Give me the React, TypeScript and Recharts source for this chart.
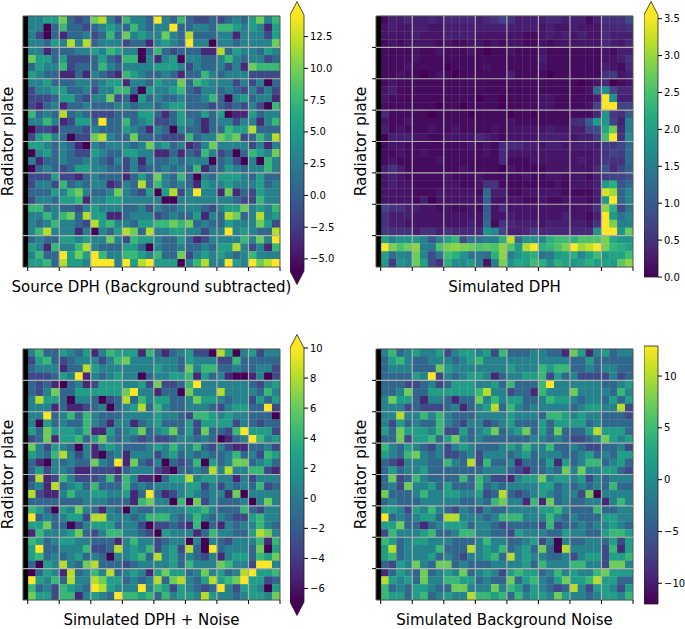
import { ScatterChart, Scatter, XAxis, YAxis, ReferenceArea, ReferenceLine, BarChart, Bar } from 'recharts';

// rows run top to bottom, one char per detector cell
// panels with digits: 0 = colour range bottom, 9 = colour range top
const SOURCE_ROWS = [
  '44557323 78426443 94363223 23435746',
  '44036332 34543643 44933443 66545415',
  '42031334 23637454 47438333 44144425',
  '44354848 34442331 45439440 44344447',
  '44133344 54654403 63233311 83544354',
  '75535222 35326604 14504433 46434423',
  '35446233 36434444 55542433 42417666',
  '54331131 43216543 34313364 34442222',
  '44533344 34551443 54473654 44242403',
  '24455334 24466305 44563244 34324242',
  '22235532 44723053 43343346 30453441',
  '21341334 33344344 34553332 32324206',
  '63438343 22233355 31353353 50115344',
  '44641255 39336345 22354313 44244146',
  '02213332 43335431 43043313 36558333',
  '25643022 78433733 32226344 76723648',
  '55434310 43444347 45341247 44442414',
  '04534322 54335544 11313264 23036547',
  '41334334 43242414 33434440 34204064',
  '03432355 44332423 34343613 35434464',
  '22252213 43331353 74363043 55543533',
  '24426343 44124383 64343154 45444534',
  '33354674 33474325 05824944 17132544',
  '24435561 44554444 40044444 44322644',
  '66343324 54443342 43344432 45574546',
  '44646738 55113444 23433514 38734845',
  '43464432 85644355 66767343 35444752',
  '46844414 04358738 44554424 49454338',
  '34335545 44742655 43353124 44464749',
  '54164468 43335530 43343343 55842416',
  '46339575 96446654 63372454 54346444',
  '55638554 99949589 55504684 49549789',
];

// tenths of a count, written in base 36 (a = 1.0, k = 2.0, z = 3.5)
const SIMULATED_ROWS = [
  '13343343 44443457 53333443 33135558',
  '23223322 33333333 33332322 32224445',
  '22223222 33332222 22112323 23224333',
  '12122221 21122121 22112122 22224324',
  '11112112 11121011 21112111 11112133',
  '11112111 11111111 11113111 11112235',
  '11121111 01111211 11112111 11113214',
  '11211012 10111111 31111011 11115623',
  '12111111 11111111 11111111 10124012',
  '23111111 11111111 11111111 112dh744',
  '21111111 11110110 11112211 1113zh33',
  '11111110 11011110 11112211 1127zz77',
  '41111101 11101111 01101111 1114i65a',
  '21121111 11111111 21111111 45aji73f',
  '31211121 12111121 22222322 3378lr4f',
  '03332211 22224321 22223333 2336oz5h',
  '12211111 11121214 44332332 3333667c',
  '11211211 11111214 22222222 2223576c',
  '12111112 11111114 11122222 2323655c',
  '35311111 11211110 21111222 2224947b',
  '23211111 21112111 11211221 22136779',
  '23221111 22112551 11111121 2223jm9c',
  '22221112 22221c33 11222221 1113xubg',
  '22221302 22222b22 22112112 2213jzbg',
  '75533221 21121a24 22222222 2225tm7d',
  '53332222 22222b22 32222223 2213zjdg',
  '53322222 22232c15 43332333 3325zsff',
  '65553553 54444ig7 33464444 444izzir',
  'kfiiifaf kn8ddffm wciigmoo mpppslii',
  'zsprtfep stsrpqpt pjvzmnps zuwzsnmk',
  'kcgfrg8e omidecmt fikmdejk mgkoikko',
  'j6igrk85 mhhjf2fs ilkomhmk ikmjkjqt',
];

const NOISY_ROWS = [
  '46335435 14655516 31345220 85045244',
  '25632344 42467444 44435444 22633333',
  '34441338 54444444 54437466 33433442',
  '22235491 43454403 44556153 41001402',
  '32310341 25554452 72236944 44443245',
  '32473355 55557944 13307444 84444364',
  '48553044 30238364 55334755 43442535',
  '44413112 34034583 64334443 24553392',
  '44934636 43334444 54432665 45443330',
  '40534336 43144134 53335255 55243233',
  '53755546 11534573 45735273 32695552',
  '23715563 57434323 22344343 01349645',
  '74254304 14543334 54644632 42113342',
  '54368424 10341444 24534343 34634265',
  '31043433 74391732 40323605 34773453',
  '35244311 22213444 21033438 48446621',
  '28126422 23626411 03558455 44142444',
  '34183453 63336343 44445524 24343623',
  '82114644 55445139 31245434 41704444',
  '33333334 44333167 44060724 33340474',
  '65305474 31430433 44445564 33363244',
  '93434552 88444346 66434643 43225644',
  '55733024 55534420 22321603 14344643',
  '16444573 24664432 05444136 44335874',
  '65345544 33314644 23440404 32444616',
  '59334446 22384546 24528309 34443705',
  '56343453 43044563 84534324 14553657',
  '30548437 83332344 44536444 76442994',
  '03541834 64834541 57553474 53489556',
  '95463844 87553434 83784358 56795523',
  '63426543 98544494 65254323 94255405',
  '75526614 54396656 36455485 44345547',
];

const NOISE_ROWS = [
  '46345445 24554526 33344331 75145344',
  '35643344 43456444 44444444 33533333',
  '34443337 54444444 54446566 33434433',
  '33335492 43455413 44556253 42222423',
  '33322342 35554453 63336944 44443345',
  '33473355 55556844 23316444 74444364',
  '47553144 31337464 55334655 43443535',
  '44423222 34134583 64344444 34554482',
  '44844646 43334444 54443665 45443332',
  '42534336 43244234 53335355 55343333',
  '53755546 22534573 45735373 33585553',
  '33725563 57434333 33344343 22347545',
  '64354324 24543334 54644633 43223342',
  '54367434 22342444 34534443 34534355',
  '32144433 64382633 41333515 34663453',
  '35344533 33333444 32133437 47445532',
  '37236433 33636422 14557455 45243444',
  '34274453 53336343 44445534 34343633',
  '73334644 55445238 32345434 42704444',
  '34333444 44334367 44161734 33441464',
  '55425464 32432433 44445564 33363344',
  '93434553 88444346 66444643 43335544',
  '55733134 55534432 33332623 34344543',
  '26444563 34664433 25444335 44335665',
  '65345544 43334644 33452404 33443525',
  '58344446 33384546 34537308 44442615',
  '56344453 43244563 84544334 24552556',
  '32547437 73433344 44536444 66442774',
  '13543734 54734542 56553464 54467555',
  '85453744 66553433 73564357 55685533',
  '63435543 37744474 65354323 84255425',
  '65535634 54486656 36455475 44345546',
];

const SOURCE_TICKS = [-5, -2.5, 0, 2.5, 5, 7.5, 10, 12.5];
const SIMULATED_TICKS = [0, 0.5, 1, 1.5, 2, 2.5, 3, 3.5];
const NOISY_TICKS = [-6, -4, -2, 0, 2, 4, 6, 8, 10];
const NOISE_TICKS = [-10, -5, 0, 5, 10];

const VIRIDIS = ['#440154', '#482475', '#414487', '#355f8d', '#2a788e', '#21918c', '#22a884', '#44bf70', '#7ad151', '#bddf26', '#fde725'];
const GRID_LINES = [4, 8, 12, 16, 20, 24, 28];
const X_TICKS = [0, 4, 8, 12, 16, 20, 24, 28, 32];
const ANCHOR = [{ x: 0, y: 0 }];
const FONT = 'DejaVu Sans';

const CELL_W = 257 / 32.6;
const CELL_H = 251 / 32;

function viridis(t: number) {
  const p = Math.max(0, Math.min(1, t)) * (VIRIDIS.length - 1);
  const i = Math.min(Math.floor(p), VIRIDIS.length - 2);
  const f = p - i;
  const a = VIRIDIS[i];
  const b = VIRIDIS[i + 1];
  const ch = (k: number) => {
    const v1 = parseInt(a.slice(k, k + 2), 16);
    const v2 = parseInt(b.slice(k, k + 2), 16);
    return Math.round(v1 + (v2 - v1) * f);
  };
  return `rgb(${ch(1)},${ch(3)},${ch(5)})`;
}

function buildCells(rows: string[], vmin: number, vmax: number, base36: boolean) {
  const out: any[] = [];
  rows.forEach((row, j) => {
    row.replace(/ /g, '').split('').forEach((c, i) => {
      const value = base36 ? parseInt(c, 36) / 10 : vmin + (Number(c) / 9) * (vmax - vmin);
      out.push({ x: i + 0.5, y: j + 0.5, value, fill: viridis((value - vmin) / (vmax - vmin)) });
    });
  });
  return out;
}

const CellShape = (props: any) => (
  <rect
    x={props.cx - CELL_W / 2 - 0.15}
    y={props.cy - CELL_H / 2 - 0.15}
    width={CELL_W + 0.3}
    height={CELL_H + 0.3}
    fill={props.payload.fill}
  />
);

function Heatmap({ left, top, rows, vmin, vmax, base36, xLabel, yTicks }: any) {
  const cells = buildCells(rows, vmin, vmax, base36);
  return (
    <>
      <div style={{ position: 'absolute', left, top, filter: 'blur(0.45px)' }}>
        <ScatterChart width={300} height={307} margin={{ top: 16, right: 20, bottom: 40, left: 23 }}>
          <XAxis type="number" dataKey="x" domain={[-0.6, 32]} allowDataOverflow hide />
          <YAxis type="number" dataKey="y" domain={[0, 32]} reversed hide />
          <Scatter data={cells} shape={CellShape} isAnimationActive={false} />
        </ScatterChart>
      </div>
      {/* second chart on top: the reference lines would otherwise sit under the cells */}
      <div style={{ position: 'absolute', left, top }}>
        <ScatterChart width={300} height={307} margin={{ top: 16, right: 20, bottom: 0, left: 0 }}>
          <XAxis
            type="number"
            dataKey="x"
            domain={[-0.6, 32]}
            ticks={X_TICKS}
            interval={0}
            allowDataOverflow
            axisLine={false}
            tickSize={4}
            tickLine={{ stroke: '#000' }}
            tickFormatter={() => ''}
            height={40}
            label={{ value: xLabel, position: 'insideBottom', offset: 15, fontSize: 15, fill: '#000', fontFamily: FONT }}
          />
          <YAxis
            type="number"
            dataKey="y"
            domain={[0, 32]}
            reversed
            ticks={GRID_LINES}
            interval={0}
            axisLine={false}
            tickLine={yTicks ? { stroke: '#000' } : false}
            tickSize={4}
            tickFormatter={() => ''}
            width={23}
            label={{ value: 'Radiator plate', angle: -90, position: 'insideLeft', textAnchor: 'middle', offset: 7, fontSize: 15.5, fill: '#000', fontFamily: FONT }}
          />
          <Scatter data={ANCHOR} fill="none" isAnimationActive={false} />
          {GRID_LINES.map((v) => (
            <ReferenceLine key={`v${v}`} x={v} stroke="#b0b0b0" strokeWidth={1.2} />
          ))}
          {GRID_LINES.map((v) => (
            <ReferenceLine key={`h${v}`} y={v} stroke="#b0b0b0" strokeWidth={1.2} />
          ))}
          <ReferenceArea x1={-0.6} x2={0.05} y1={0} y2={32} fill="#000" fillOpacity={1} stroke="none" />
          <ReferenceArea x1={-0.6} x2={32} y1={0} y2={32} fill="none" stroke="#555" strokeWidth={1} />
        </ScatterChart>
      </div>
    </>
  );
}

function ColorBar({ left, top, height, vmin, vmax, ticks, digits, extendTop, extendBottom, id }: any) {
  const barData = [{ name: 'bar', range: [vmin, vmax] }];
  const BarShape = (p: any) => {
    const x = p.x;
    const w = p.width;
    const y0 = p.y;
    const y1 = p.y + p.height;
    return (
      <g>
        <rect x={x} y={y0} width={w} height={y1 - y0} fill={`url(#${id})`} />
        {extendTop && <polygon points={`${x},${y0} ${x + w / 2},${y0 - 13.5} ${x + w},${y0}`} fill={VIRIDIS[10]} />}
        {extendBottom && <polygon points={`${x},${y1} ${x + w / 2},${y1 + 13.5} ${x + w},${y1}`} fill={VIRIDIS[0]} />}
        <path
          d={`M${x},${y0} ${extendTop ? `L${x + w / 2},${y0 - 13.5} ` : ''}L${x + w},${y0} L${x + w},${y1} ${extendBottom ? `L${x + w / 2},${y1 + 13.5} ` : ''}L${x},${y1} Z`}
          fill="none"
          stroke="#222"
          strokeWidth={0.8}
        />
      </g>
    );
  };
  return (
    <div style={{ position: 'absolute', left, top }}>
      <BarChart
        width={60}
        height={height + 30}
        data={barData}
        margin={{ top: 15, right: 0, bottom: 15, left: 0 }}
        barCategoryGap={0}
      >
        <defs>
          <linearGradient id={id} x1="0" y1="1" x2="0" y2="0">
            {VIRIDIS.map((c, i) => (
              <stop key={c} offset={i / (VIRIDIS.length - 1)} stopColor={c} />
            ))}
          </linearGradient>
        </defs>
        <XAxis dataKey="name" hide />
        <YAxis
          orientation="right"
          type="number"
          domain={[vmin, vmax]}
          ticks={ticks}
          interval={0}
          width={46}
          axisLine={false}
          tickSize={4}
          tickLine={{ stroke: '#000' }}
          tick={{ fontSize: 10, fill: '#000', fontFamily: FONT }}
          tickFormatter={(v: number) => v.toFixed(digits).replace('-', '\u2212')}
        />
        <Bar dataKey="range" shape={BarShape} isAnimationActive={false} />
      </BarChart>
    </div>
  );
}

export default function App() {
  return (
    <div style={{ position: 'absolute', left: 0, top: 0, width: 685, height: 629, background: '#fff', overflow: 'hidden' }}>
      <Heatmap left={0} top={0} rows={SOURCE_ROWS} vmin={-6} vmax={14.2} xLabel="Source DPH (Background subtracted)" yTicks={false} />
      <Heatmap left={353} top={0} rows={SIMULATED_ROWS} vmin={0} vmax={3.5} base36 xLabel="Simulated DPH" yTicks />
      <Heatmap left={0} top={333} rows={NOISY_ROWS} vmin={-6.9} vmax={10} xLabel="Simulated DPH + Noise" yTicks={false} />
      <Heatmap left={353} top={333} rows={NOISE_ROWS} vmin={-12} vmax={12.9} xLabel="Simulated Background Noise" yTicks />
      <ColorBar id="cb1" left={290} top={0} height={256} vmin={-5.95} vmax={14.2} ticks={SOURCE_TICKS} digits={1} extendTop extendBottom />
      <ColorBar id="cb2" left={644} top={0} height={262} vmin={0} vmax={3.55} ticks={SIMULATED_TICKS} digits={1} extendTop />
      <ColorBar id="cb3" left={290} top={333} height={254} vmin={-6.9} vmax={10} ticks={NOISY_TICKS} digits={0} extendTop extendBottom />
      <ColorBar id="cb4" left={644} top={331} height={258} vmin={-12} vmax={12.9} ticks={NOISE_TICKS} digits={0} />
    </div>
  );
}
